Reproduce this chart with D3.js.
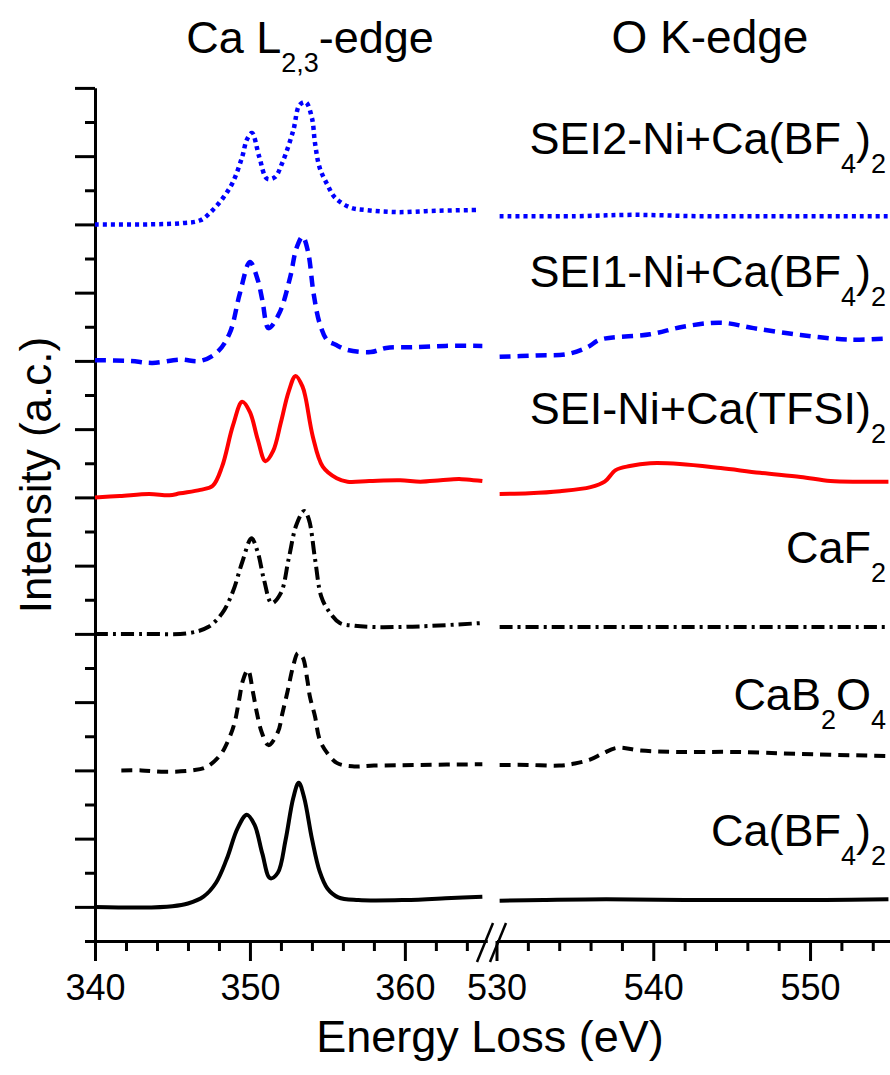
<!DOCTYPE html>
<html>
<head>
<meta charset="utf-8">
<script src="https://cdn.jsdelivr.net/npm/d3@7"></script>
<style>
  html, body { margin: 0; padding: 0; background: #fff; }
  svg { display: block; }
  text { font-family: "Liberation Sans", Arial, sans-serif; fill: #000; }
</style>
</head>
<body>
<svg id="chart" width="890" height="1075"></svg>
<script>
// ---------- DATA (energy eV, intensity above own baseline) ----------
const xTicksLeft = [340, 350, 360];
const xTicksRight = [530, 540, 550];
const titleCa = "Ca L";
const titleO = "O K-edge";
const yLabel = "Intensity (a.c.)";
const xLabel = "Energy Loss (eV)";

// vertical offsets of each spectrum (in intensity units)
const offsets = [0, 2, 4, 6, 8, 10];

// Ca(BF4)2 – black solid
const caBF4_L = [[340,0],[343,-0.01],[345,0.01],[346,0.05],[347,0.15],[347.8,0.35],[348.5,0.7],[349.2,1.15],[349.8,1.35],[350.3,1.2],[350.8,0.78],[351.3,0.42],[351.8,0.5],[352.3,0.98],[352.8,1.6],[353.15,1.82],[353.5,1.6],[354,1.0],[354.5,0.52],[355,0.27],[355.7,0.14],[357,0.1],[360,0.1],[363,0.13],[365,0.15]];
const caBF4_O = [[530.2,0.09],[533,0.1],[537,0.11],[542,0.1],[547,0.1],[551,0.1],[555,0.11]];

// CaB2O4 – black dashed
const caB2O4_L = [[341.7,0],[343,0],[344.5,-0.02],[346.3,0.0],[347.2,0.05],[348.1,0.23],[348.6,0.44],[349.0,0.69],[349.3,1.03],[349.55,1.32],[349.87,1.47],[350.2,1.14],[350.45,0.84],[350.77,0.55],[351.2,0.37],[351.8,0.56],[352.1,0.84],[352.45,1.18],[352.77,1.51],[353.1,1.72],[353.4,1.66],[353.7,1.33],[353.87,1.08],[354.2,0.79],[354.5,0.45],[354.97,0.26],[355.6,0.11],[356.6,0.06],[358,0.07],[361,0.08],[365,0.09]];
const caB2O4_O = [[530.2,0.08],[532,0.08],[534,0.07],[535,0.1],[536,0.16],[536.8,0.25],[537.7,0.33],[539.2,0.29],[541.7,0.27],[545.1,0.27],[549.4,0.24],[555,0.21]];

// CaF2 – black dash-dot
const caF2_L = [[340,0],[343,0.0],[346,0.01],[347.3,0.1],[348.2,0.3],[348.9,0.62],[349.5,1.05],[350.1,1.4],[350.5,1.2],[350.9,0.8],[351.4,0.45],[352.0,0.6],[352.5,1.1],[353.0,1.6],[353.5,1.8],[353.8,1.68],[354.2,1.1],[354.6,0.55],[355.1,0.33],[355.8,0.16],[356.7,0.12],[358,0.1],[361,0.11],[365,0.16]];
const caF2_O = [[530.2,0.1],[534,0.1],[538,0.1],[542,0.1],[546,0.1],[550,0.1],[555,0.1]];

// SEI-Ni+Ca(TFSI)2 – red solid
const seiTFSI_L = [[340,0],[341.6,0.02],[343.5,0.05],[344.8,0.03],[345.5,0.06],[346.8,0.11],[347.6,0.17],[348.2,0.45],[348.9,1.05],[349.5,1.4],[350.0,1.25],[350.5,0.85],[351.0,0.53],[351.5,0.68],[352.0,1.1],[352.5,1.55],[352.95,1.78],[353.4,1.62],[353.6,1.45],[354.06,0.89],[354.7,0.45],[355.6,0.28],[356.3,0.23],[357.7,0.24],[359.7,0.25],[361,0.23],[362.3,0.25],[363.5,0.27],[365,0.24]];
const seiTFSI_O = [[530.2,0.05],[532.1,0.06],[534.05,0.09],[536,0.15],[536.9,0.23],[537.6,0.4],[538.5,0.46],[539.8,0.5],[541.7,0.49],[544.3,0.43],[546.8,0.36],[549.4,0.3],[551.3,0.24],[553.2,0.23],[555,0.23]];

// SEI1-Ni+Ca(BF4)2 – blue dashed
const sei1_L = [[340,0.01],[342.3,0],[343.7,-0.03],[345.5,0.02],[346.8,0.0],[347.9,0.13],[348.7,0.41],[349.35,0.99],[350.0,1.45],[350.5,1.19],[350.8,0.89],[351.2,0.48],[351.9,0.7],[352.6,1.23],[353.0,1.65],[353.4,1.82],[353.75,1.6],[354.1,1.0],[354.5,0.55],[355.0,0.3],[355.5,0.24],[356.3,0.16],[357.8,0.13],[358.8,0.19],[360.5,0.2],[362.6,0.22],[365,0.22]];
const sei1_O = [[530.2,0.06],[532.5,0.08],[534.5,0.1],[535.8,0.2],[536.6,0.31],[539.8,0.39],[541.9,0.5],[544.3,0.56],[546.4,0.48],[549.4,0.38],[552.6,0.31],[555,0.33]];

// SEI2-Ni+Ca(BF4)2 – blue dotted
const sei2_L = [[340,0],[343.5,0.0],[345.7,0.02],[346.8,0.06],[347.6,0.21],[348.3,0.4],[348.9,0.62],[349.5,0.99],[349.8,1.24],[350.13,1.34],[350.6,0.99],[351.1,0.67],[351.6,0.69],[352.1,0.91],[352.8,1.38],[353.2,1.75],[353.6,1.79],[354.0,1.56],[354.2,1.19],[354.5,0.83],[355.0,0.58],[355.5,0.39],[356.45,0.25],[357.5,0.21],[359.5,0.18],[362,0.2],[364.6,0.21]];
const sei2_O = [[530.2,0.12],[535,0.12],[538.7,0.14],[543,0.12],[548,0.12],[555,0.12]];

const seriesNames = ["Ca(BF4)2", "CaB2O4", "CaF2", "SEI-Ni+Ca(TFSI)2", "SEI1-Ni+Ca(BF4)2", "SEI2-Ni+Ca(BF4)2"];
const seriesLeft = [caBF4_L, caB2O4_L, caF2_L, seiTFSI_L, sei1_L, sei2_L];
const seriesRight = [caBF4_O, caB2O4_O, caF2_O, seiTFSI_O, sei1_O, sei2_O];

// ---------- STYLES ----------
const styles = [
  {color: "#000000", dash: null, width: 4},
  {color: "#000000", dash: "11,7", width: 4},
  {color: "#000000", dash: "13,5,3,5", width: 4},
  {color: "#ff0000", dash: null, width: 4},
  {color: "#0000ff", dash: "11,7", width: 4.5},
  {color: "#0000ff", dash: "4,4", width: 4.5}
];
// label parts: [text, isSub]
const labelParts = [
  [["Ca(BF",0],["4",1],[")",0],["2",1]],
  [["CaB",0],["2",1],["O",0],["4",1]],
  [["CaF",0],["2",1]],
  [["SEI-Ni+Ca(TFSI)",0],["2",1]],
  [["SEI1-Ni+Ca(BF",0],["4",1],[")",0],["2",1]],
  [["SEI2-Ni+Ca(BF",0],["4",1],[")",0],["2",1]]
];
const labelBaselines = [846, 710, 563, 424, 287, 154];

// ---------- SCALES ----------
const svg = d3.select("#chart");
const xL = d3.scaleLinear().domain([340, 365.3]).range([95, 487]);
const xR = d3.scaleLinear().domain([530, 555.1]).range([496.5, 890]);
const y = d3.scaleLinear().domain([-0.5, 12]).range([941, 87.9]);

// ---------- AXES ----------
function styleAxis(g) {
  g.selectAll("path.domain").attr("stroke", "#000").attr("stroke-width", 3);
  g.selectAll(".tick line").attr("stroke", "#000").attr("stroke-width", 3);
}
// y axis
const yMinor = d3.range(-0.5, 12.01, 0.5).filter(v => Math.abs(v - Math.round(v)) > 0.01);
const yMajor = d3.range(0, 12.01, 1);
svg.append("g").attr("transform", "translate(95,0)")
  .call(d3.axisLeft(y).tickValues(yMinor).tickSize(10).tickSizeOuter(0).tickFormat(""))
  .call(styleAxis);
svg.append("g").attr("transform", "translate(95,0)")
  .call(d3.axisLeft(y).tickValues(yMajor).tickSize(20).tickSizeOuter(0).tickFormat(""))
  .call(styleAxis);

// x axes
function xAxis(scale, majors, minors) {
  svg.append("g").attr("transform", "translate(0,941)")
    .call(d3.axisBottom(scale).tickValues(minors).tickSize(10).tickSizeOuter(0).tickFormat(""))
    .call(styleAxis);
  const g = svg.append("g").attr("transform", "translate(0,941)")
    .call(d3.axisBottom(scale).tickValues(majors).tickSize(20).tickSizeOuter(0).tickPadding(10))
    .call(styleAxis);
  g.selectAll(".tick text").attr("font-size", 36).attr("dy", null).attr("y", 59)
    .style("font-family", "Liberation Sans, Arial, sans-serif").attr("fill", "#000");
}
xAxis(xL, xTicksLeft, d3.range(342, 366, 2).filter(v => v % 10 !== 0));
xAxis(xR, xTicksRight, d3.range(532, 556, 2).filter(v => v % 10 !== 0));

// axis break slashes
const bL = xL.range()[1], bR = xR.range()[0];
[[bL - 2], [bR + 1.5]].forEach(([cx]) => {
  svg.append("line").attr("x1", cx - 8).attr("y1", 962).attr("x2", cx + 8).attr("y2", 923)
    .attr("stroke", "#000").attr("stroke-width", 2.5);
});

// ---------- LINES ----------
const curve = d3.curveCatmullRom.alpha(0.5);
seriesLeft.forEach((data, i) => {
  const off = offsets[i];
  const st = styles[i];
  [[data, xL], [seriesRight[i], xR]].forEach(([d, sx]) => {
    const line = d3.line().x(p => sx(p[0])).y(p => y(p[1] + off)).curve(curve);
    svg.append("path").datum(d).attr("d", line)
      .attr("fill", "none").attr("stroke", st.color).attr("stroke-width", st.width)
      .attr("stroke-dasharray", st.dash).attr("stroke-linejoin", "round");
  });
});

// ---------- LABELS ----------
function addRich(parts, x, yb, size, anchor) {
  const t = svg.append("text").attr("x", x).attr("y", yb).attr("font-size", size)
    .attr("text-anchor", anchor);
  const subSize = size * 0.6, shift = size * 0.42;
  let shifted = false;
  parts.forEach(([s, sub]) => {
    const ts = t.append("tspan").text(s);
    if (sub) {
      ts.attr("font-size", subSize);
      if (!shifted) { ts.attr("dy", shift); shifted = true; }
    } else if (shifted) { ts.attr("dy", -shift); shifted = false; }
  });
  return t;
}
labelParts.forEach((parts, i) => addRich(parts, 886, labelBaselines[i], 45, "end"));

// titles
addRich([[titleCa, 0], ["2,3", 1], ["-edge", 0]], 310, 53, 45, "middle");
svg.append("text").attr("x", 710).attr("y", 53).attr("font-size", 46)
  .attr("text-anchor", "middle").text(titleO);

// axis titles
svg.append("text").attr("transform", "translate(51,475) rotate(-90)")
  .attr("font-size", 44).attr("text-anchor", "middle").text(yLabel);
svg.append("text").attr("x", 490).attr("y", 1052).attr("font-size", 45)
  .attr("text-anchor", "middle").text(xLabel);
</script>
</body>
</html>
